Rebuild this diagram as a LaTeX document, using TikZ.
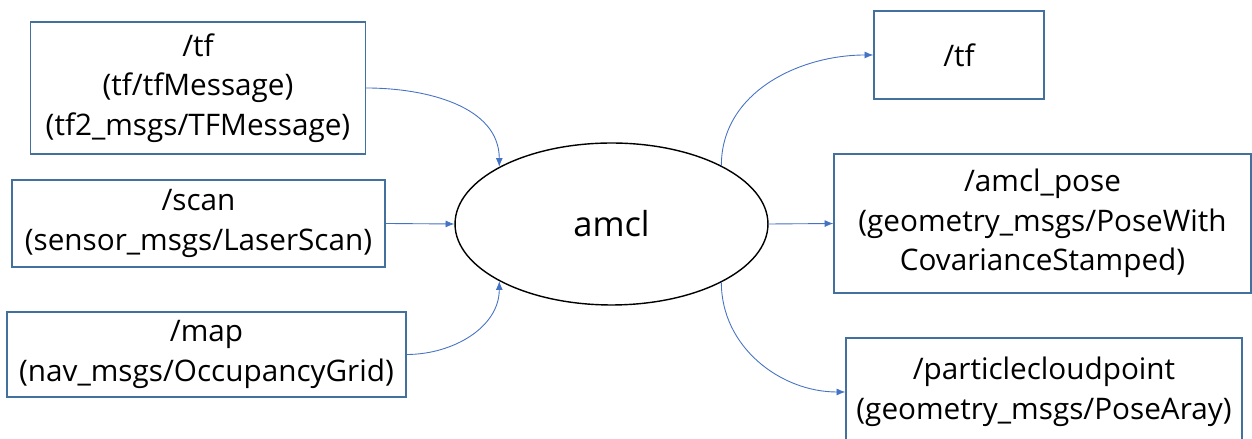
\documentclass[tikz,border=0pt]{standalone}
\usepackage{fontspec}
\setmainfont{Open Sans}
\usetikzlibrary{shapes.geometric,arrows.meta}
\definecolor{boxblue}{HTML}{41719C}
\definecolor{linkblue}{HTML}{4472C4}
\tikzset{
  topic/.style={draw=boxblue,line width=0.8pt,align=center,inner sep=0pt,
    font=\fontsize{16.9}{22.6}\selectfont},
  link/.style={linkblue,line width=0.5pt,-{Latex[length=5pt,width=4pt]}}
}

\begin{document}
\begin{tikzpicture}[x=0.02cm,y=0.02cm]
\clip (0,0) rectangle (1252,439);

% inputs
\node[topic,minimum width=6.7cm,minimum height=2.64cm] (tfin) at (198,351)
  {/tf\\(tf/tfMessage)\\(tf2\_msgs/TFMessage)};
\node[topic,minimum width=7.46cm,minimum height=1.74cm] (scan) at (198.5,215.5)
  {/scan\\(sensor\_msgs/LaserScan)};
\node[topic,minimum width=7.98cm,minimum height=1.7cm] (map) at (206.5,84.5)
  {/map\\(nav\_msgs/OccupancyGrid)};

% node
\node[ellipse,draw,line width=0.8pt,minimum width=6.26cm,minimum height=3.24cm,
  font=\fontsize{19.6}{24}\selectfont] (amcl) at (611.5,215) {amcl};

% outputs
\node[topic,minimum width=3.4cm,minimum height=1.76cm] (tfout) at (959,384) {/tf};
\node[topic,minimum width=8.34cm,minimum height=2.78cm] (pose) at (1042.5,215.5)
  {/amcl\_pose\\(geometry\_msgs/PoseWith\\CovarianceStamped)};
\node[topic,minimum width=7.92cm,minimum height=2.16cm] (cloud) at (1044,47)
  {/particlecloudpoint\\(geometry\_msgs/PoseAray)};

\draw[link] (tfin.east) to[out=0,in=90] (amcl.153);
\draw[link] (scan.east) -- (amcl.west);
\draw[link] (map.east) to[out=0,in=-90] (amcl.207);
\draw[link] (amcl.28) to[out=90,in=180] (tfout.west);
\draw[link] (amcl.east) -- (pose.west);
\draw[link] (amcl.-28) to[out=-90,in=180] (cloud.west);
\end{tikzpicture}
\end{document}
